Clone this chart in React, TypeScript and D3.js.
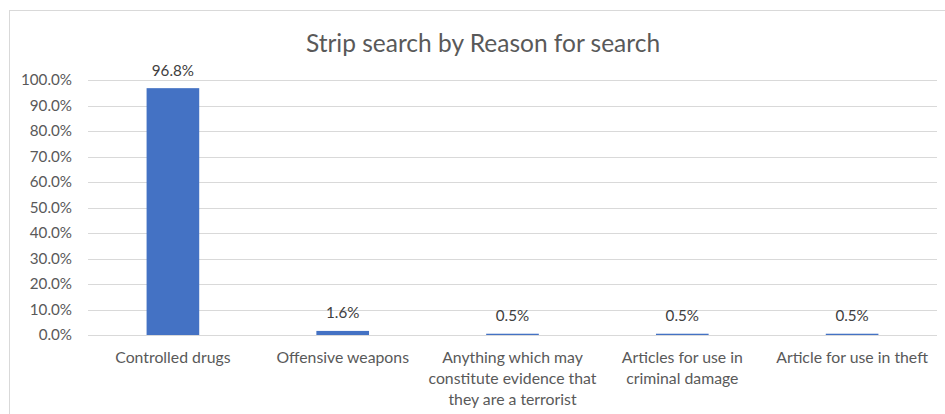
import React, { useEffect, useRef } from "react";
import * as d3 from "d3";

const categories = [
  "Controlled drugs",
  "Offensive weapons",
  "Anything which may constitute evidence that they are a terrorist",
  "Articles for use in criminal damage",
  "Article for use in theft",
];
const values = [96.8, 1.6, 0.5, 0.5, 0.5];
const yTicks = [0, 10, 20, 30, 40, 50, 60, 70, 80, 90, 100];
const title = "Strip search by Reason for search";

const W = 945;
const H = 414;
const FONT = "Lato, 'Open Sans', sans-serif";

export default function App() {
  const ref = useRef<SVGSVGElement>(null);
  useEffect(() => {
    const svg = d3.select(ref.current);
    svg.selectAll("*").remove();

    const left = 88, right = 937, top = 80, bottom = 335;
    const x = d3.scaleBand<string>().domain(categories).range([left, right]).paddingInner(0.69).paddingOuter(0.345);
    const y = d3.scaleLinear().domain([0, 100]).range([bottom, top]);

    svg.append("rect").attr("x", 0).attr("y", 0).attr("width", W).attr("height", H).attr("fill", "#fff");
    svg.append("rect").attr("x", 9.5).attr("y", 10.5).attr("width", W + 20).attr("height", H + 20)
      .attr("fill", "none").attr("stroke", "#d9d9d9").attr("stroke-width", 1);

    svg.append("text").attr("x", 483).attr("y", 52).attr("text-anchor", "middle")
      .attr("font-family", FONT).attr("font-size", 24.5).attr("fill", "#595959").text(title);

    const g = svg.append("g");
    yTicks.forEach((t) => {
      g.append("line").attr("x1", left).attr("x2", right).attr("y1", Math.round(y(t)) + 0.5).attr("y2", Math.round(y(t)) + 0.5)
        .attr("stroke", "#d9d9d9").attr("stroke-width", 1);
      g.append("text").attr("x", 72).attr("y", y(t)).attr("dy", "0.36em").attr("text-anchor", "end")
        .attr("font-family", FONT).attr("font-size", 15.2).attr("fill", "#595959").text(d3.format(".1f")(t) + "%");
    });

    categories.forEach((c, i) => {
      const v = values[i];
      g.append("rect").attr("x", x(c)!).attr("y", y(v)).attr("width", x.bandwidth()).attr("height", y(0) - y(v))
        .attr("fill", "#4472c4");
      g.append("text").attr("x", x(c)! + x.bandwidth() / 2).attr("y", y(v) - 12.5).attr("text-anchor", "middle")
        .attr("font-family", FONT).attr("font-size", 15.2).attr("fill", "#404040").text(v.toFixed(1) + "%");

      const cx = x(c)! + x.bandwidth() / 2;
      const txt = g.append("text").attr("text-anchor", "middle").attr("font-family", FONT)
        .attr("font-size", 15.8).attr("fill", "#595959");
      const words = c.split(" ");
      const maxW = 174;
      let line: string[] = [];
      let lineNo = 0;
      let tspan = txt.append("tspan").attr("x", cx).attr("y", 363);
      words.forEach((w) => {
        line.push(w);
        tspan.text(line.join(" "));
        if ((tspan.node() as SVGTSpanElement).getComputedTextLength() > maxW && line.length > 1) {
          line.pop();
          tspan.text(line.join(" "));
          line = [w];
          lineNo++;
          tspan = txt.append("tspan").attr("x", cx).attr("y", 363 + lineNo * 21).text(w);
        }
      });
    });
  }, []);
  return (
    <svg ref={ref} width={W} height={H} style={{ position: "absolute", left: 0, top: 0, display: "block" }} />
  );
}
